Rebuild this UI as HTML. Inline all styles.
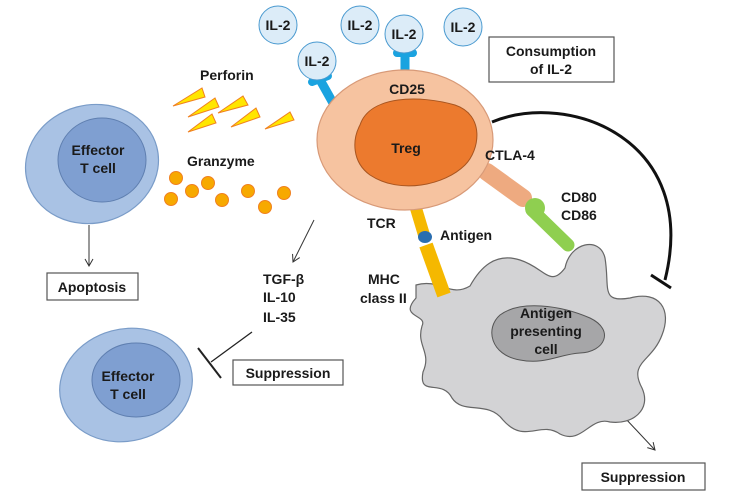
<!DOCTYPE html>
<html><head><meta charset="utf-8"><style>
html,body{margin:0;padding:0;background:#fff}
svg{display:block}
text{font-family:"Liberation Sans",Arial,sans-serif;font-weight:bold;fill:#1a1a1a}
</style></head><body>
<svg width="735" height="500" viewBox="0 0 735 500" xmlns="http://www.w3.org/2000/svg">
<defs>
<marker id="ar" markerWidth="10" markerHeight="10" refX="8" refY="5" orient="auto" markerUnits="userSpaceOnUse">
<path d="M1,1 L8,5 L1,9" fill="none" stroke="#333" stroke-width="1"/></marker>
</defs>
<!-- Effector top -->
<ellipse cx="92" cy="164" rx="67" ry="59" fill="#a9c2e4" stroke="#7a9cc8" stroke-width="1.2" transform="rotate(-15 92 164)"/>
<ellipse cx="102" cy="160" rx="44" ry="42" fill="#7f9fd1" stroke="#5f7fb0" stroke-width="1"/>
<text x="98" y="155" font-size="14" text-anchor="middle">Effector</text>
<text x="98" y="173" font-size="14" text-anchor="middle">T cell</text>
<!-- Effector bottom -->
<ellipse cx="126" cy="385" rx="67" ry="56" fill="#a9c2e4" stroke="#7a9cc8" stroke-width="1.2" transform="rotate(-15 126 385)"/>
<ellipse cx="136" cy="380" rx="44" ry="37" fill="#7f9fd1" stroke="#5f7fb0" stroke-width="1"/>
<text x="128" y="381" font-size="14" text-anchor="middle">Effector</text>
<text x="128" y="399" font-size="14" text-anchor="middle">T cell</text>
<!-- Arrows -->
<line x1="89" y1="225" x2="89" y2="266" stroke="#333" stroke-width="1" marker-end="url(#ar)"/>
<line x1="314" y1="220" x2="293" y2="262" stroke="#333" stroke-width="1" marker-end="url(#ar)"/>
<line x1="625" y1="418" x2="655" y2="450" stroke="#333" stroke-width="1" marker-end="url(#ar)"/>
<!-- T bar -->
<line x1="252" y1="332" x2="211" y2="362" stroke="#222" stroke-width="1.3"/>
<line x1="198" y1="348" x2="221" y2="378" stroke="#222" stroke-width="2"/>
<!-- boxes -->
<rect x="47" y="273" width="91" height="27" fill="#fff" stroke="#555" stroke-width="1.2"/>
<text x="92" y="292" font-size="14" text-anchor="middle">Apoptosis</text>
<rect x="233" y="360" width="110" height="25" fill="#fff" stroke="#555" stroke-width="1.2"/>
<text x="288" y="378" font-size="14" text-anchor="middle">Suppression</text>
<rect x="582" y="463" width="123" height="27" fill="#fff" stroke="#555" stroke-width="1.2"/>
<text x="643" y="482" font-size="14" text-anchor="middle">Suppression</text>
<rect x="489" y="37" width="125" height="45" fill="#fff" stroke="#555" stroke-width="1.2"/>
<text x="551" y="56" font-size="14" text-anchor="middle">Consumption</text>
<text x="551" y="74" font-size="14" text-anchor="middle">of IL-2</text>
<!-- TGF -->
<text x="263" y="284" font-size="14">TGF-β</text>
<text x="263" y="302" font-size="14">IL-10</text>
<text x="263" y="322" font-size="14">IL-35</text>
<!-- Perforin -->
<text x="200" y="80" font-size="14">Perforin</text>
<g fill="#ffe600" stroke="#f08020" stroke-width="1">
<polygon points="173,106 202,88 205,97"/>
<polygon points="188,117 215,98 219,107"/>
<polygon points="218,113 243,96 248,105"/>
<polygon points="188,132 212,114 216,123"/>
<polygon points="231,127 256,108 260,117"/>
<polygon points="265,129 290,112 294,120"/>
</g>
<text x="187" y="166" font-size="14">Granzyme</text>
<g fill="#f7a900" stroke="#f08020" stroke-width="1">
<circle cx="176" cy="178" r="6.5"/><circle cx="192" cy="191" r="6.5"/><circle cx="208" cy="183" r="6.5"/>
<circle cx="171" cy="199" r="6.5"/><circle cx="222" cy="200" r="6.5"/><circle cx="248" cy="191" r="6.5"/>
<circle cx="265" cy="207" r="6.5"/><circle cx="284" cy="193" r="6.5"/>
</g>
<!-- APC -->
<path d="M416,285 C440,278 450,298 470,286 C480,268 495,252 520,260 C545,268 550,288 565,268 C570,242 600,236 605,258 C610,288 600,303 630,298 C660,290 672,310 662,335 C652,362 628,362 642,388 C652,410 632,425 610,422 C590,416 582,445 560,434 C540,420 525,445 503,420 C488,400 463,415 452,398 C442,378 418,398 423,372 C432,352 416,346 422,326 C428,314 398,318 416,298 Z" fill="#d3d3d5" stroke="#666" stroke-width="1.2"/>
<path d="M500,315 C520,300 560,305 590,318 C615,330 605,352 580,353 C560,354 545,365 520,360 C490,355 485,328 500,315 Z" fill="#a6a6a8" stroke="#555" stroke-width="1"/>
<text x="546" y="318" font-size="14" text-anchor="middle">Antigen</text>
<text x="546" y="336" font-size="14" text-anchor="middle">presenting</text>
<text x="546" y="354" font-size="14" text-anchor="middle">cell</text>
<!-- arc -->
<path d="M492,122 C570,90 700,140 665,280" fill="none" stroke="#111" stroke-width="3"/>
<line x1="651" y1="275" x2="671" y2="288" stroke="#111" stroke-width="3"/>
<!-- IL-2 stems -->
<g stroke="#1aa3e0" stroke-linecap="round" fill="none">
<line x1="319" y1="78" x2="333" y2="103" stroke-width="9"/>
<line x1="312" y1="82" x2="328" y2="76" stroke-width="8"/>
<line x1="405" y1="52" x2="405" y2="72" stroke-width="9"/>
<line x1="397" y1="53" x2="413" y2="53" stroke-width="8"/>
</g>
<!-- TCR -->
<g stroke="#f5b800" stroke-linecap="butt" fill="none">
<line x1="412" y1="195" x2="424" y2="235" stroke-width="12"/>
<line x1="426" y1="245" x2="444" y2="295" stroke-width="14"/>
</g>
<ellipse cx="425" cy="237" rx="7" ry="6" fill="#2a6eb0"/>
<!-- CTLA-4 -->
<path d="M487,172 L523,198" stroke="#eeaa80" stroke-width="18" stroke-linecap="round"/>
<path d="M532,210 L568,245" stroke="#8fcf50" stroke-width="13" stroke-linecap="round"/>
<circle cx="535" cy="208" r="10" fill="#8fcf50"/>
<!-- Treg -->
<ellipse cx="405" cy="140" rx="88" ry="70" fill="#f6c3a0" stroke="#d89a78" stroke-width="1.2"/>
<path d="M360,125 C370,95 420,95 455,105 C485,115 480,150 465,165 C445,185 400,195 370,175 C352,162 352,140 360,125 Z" fill="#ec7a2e" stroke="#a85520" stroke-width="1"/>
<text x="406" y="153" font-size="14" text-anchor="middle">Treg</text>
<text x="407" y="94" font-size="14" text-anchor="middle">CD25</text>
<text x="485" y="160" font-size="14">CTLA-4</text>
<text x="561" y="202" font-size="14">CD80</text>
<text x="561" y="220" font-size="14">CD86</text>
<text x="367" y="228" font-size="14">TCR</text>
<text x="440" y="240" font-size="14">Antigen</text>
<text x="368" y="284" font-size="14">MHC</text>
<text x="360" y="303" font-size="14">class II</text>
<!-- IL-2 circles -->
<g fill="#dcecf8" stroke="#4a9ad0" stroke-width="1">
<circle cx="278" cy="25" r="19"/><circle cx="360" cy="25" r="19"/><circle cx="404" cy="34" r="19"/>
<circle cx="463" cy="27" r="19"/><circle cx="317" cy="61" r="19"/>
</g>
<g font-size="14" text-anchor="middle">
<text x="278" y="30">IL-2</text><text x="360" y="30">IL-2</text><text x="404" y="39">IL-2</text>
<text x="463" y="32">IL-2</text><text x="317" y="66">IL-2</text>
</g>
</svg>
</body></html>
